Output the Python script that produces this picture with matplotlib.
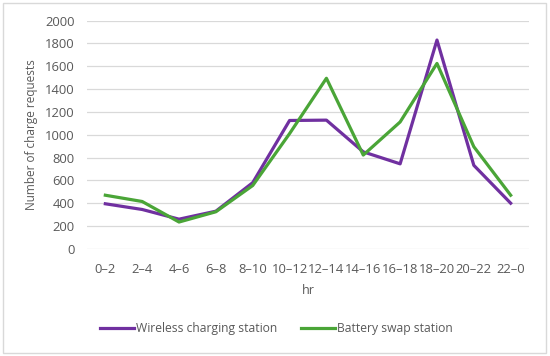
import matplotlib
matplotlib.use("Agg")
import matplotlib.pyplot as plt
from matplotlib.patches import Rectangle

plt.rcParams['font.family'] = ['Open Sans', 'DejaVu Sans']

# Data
hours = ['0–2', '2–4', '4–6', '6–8', '8–10', '10–12', '12–14', '14–16',
         '16–18', '18–20', '20–22', '22–0']
wireless = [395, 345, 260, 330, 580, 1125, 1128, 850, 745, 1830, 732, 400]
battery = [470, 415, 235, 325, 555, 1010, 1495, 822, 1112, 1625, 895, 470]

grey = '#595959'

fig = plt.figure(figsize=(5.5, 3.56), dpi=100)
fig.patches.append(Rectangle((0.006, 0.008), 0.987, 0.983, transform=fig.transFigure,
                             fill=False, edgecolor='#D9D9D9', linewidth=1))

ax = fig.add_axes([0.158, 0.301, 0.804, 0.641])
x = list(range(len(hours)))
ax.plot(x, wireless, color='#7030A0', linewidth=2.3, label='Wireless charging station')
ax.plot(x, battery, color='#4AA537', linewidth=2.3, label='Battery swap station')

ax.set_xlim(-0.5, len(hours) - 0.5)
ax.set_ylim(0, 2000)
ax.set_yticks(range(0, 2001, 200))
ax.set_xticks(x)
ax.set_xticklabels(hours)
ax.grid(axis='y', color='#D9D9D9', linewidth=0.9)
ax.set_axisbelow(True)
for s in ax.spines.values():
    s.set_visible(False)
ax.tick_params(length=0, colors=grey, labelsize=9.4)
ax.tick_params(axis='x', pad=10)
ax.tick_params(axis='y', pad=9)

ax.set_xlabel('hr', color=grey, fontsize=9, labelpad=6)
ax.set_ylabel('Number of charge requests', color=grey, fontsize=8.5, labelpad=5)

leg = fig.legend(loc='center', bbox_to_anchor=(0.503, 0.077), ncol=2, frameon=False,
                 fontsize=8.7, handlelength=2.8, handletextpad=0.15, columnspacing=2.0)
for t in leg.get_texts():
    t.set_color(grey)

fig.savefig('out.png', dpi=100)
